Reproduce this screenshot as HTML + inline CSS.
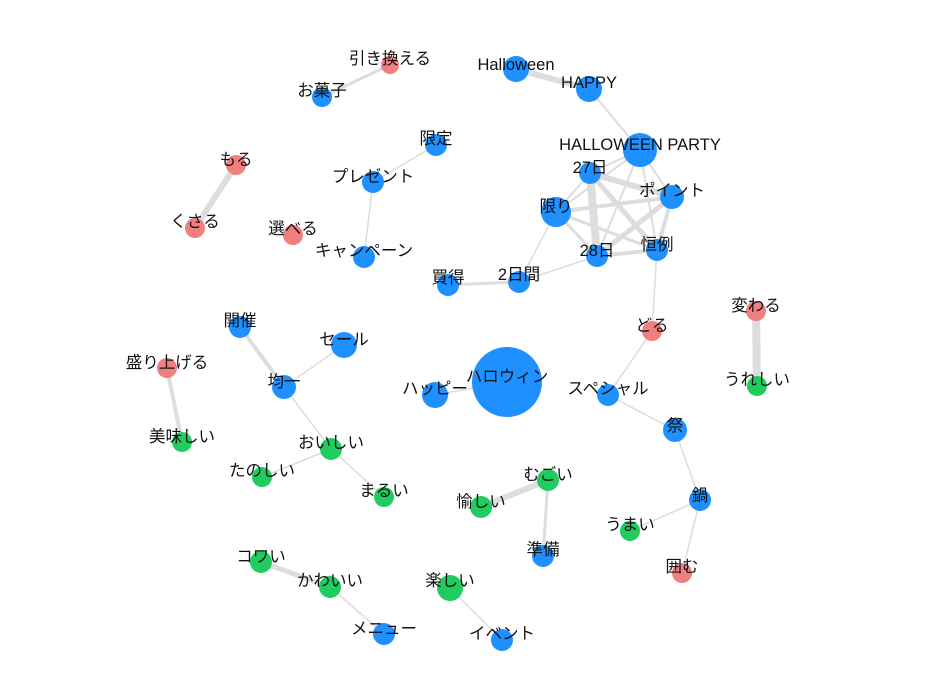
<!DOCTYPE html>
<html><head><meta charset="utf-8"><style>
html,body{margin:0;padding:0;background:#fff;width:933px;height:700px;overflow:hidden}
text{font-family:"Liberation Sans","Noto Sans CJK JP",sans-serif;font-size:16.5px;fill:#111;text-anchor:middle}
</style></head><body>
<svg width="933" height="700" xmlns="http://www.w3.org/2000/svg">
<g stroke="#ddd" stroke-linecap="round">
<line x1="390" y1="65" x2="322" y2="97" stroke-width="3"/>
<line x1="516" y1="69" x2="589" y2="89" stroke-width="6"/>
<line x1="589" y1="89" x2="640" y2="150" stroke-width="2"/>
<line x1="640" y1="150" x2="590" y2="173" stroke-width="2"/>
<line x1="640" y1="150" x2="556" y2="212" stroke-width="2"/>
<line x1="640" y1="150" x2="597" y2="256" stroke-width="2"/>
<line x1="640" y1="150" x2="672" y2="197" stroke-width="2"/>
<line x1="640" y1="150" x2="657" y2="250" stroke-width="2"/>
<line x1="590" y1="173" x2="556" y2="212" stroke-width="2"/>
<line x1="590" y1="173" x2="597" y2="256" stroke-width="8"/>
<line x1="590" y1="173" x2="672" y2="197" stroke-width="6"/>
<line x1="590" y1="173" x2="657" y2="250" stroke-width="5"/>
<line x1="556" y1="212" x2="672" y2="197" stroke-width="4"/>
<line x1="556" y1="212" x2="597" y2="256" stroke-width="3"/>
<line x1="556" y1="212" x2="657" y2="250" stroke-width="3"/>
<line x1="597" y1="256" x2="672" y2="197" stroke-width="5"/>
<line x1="597" y1="256" x2="657" y2="250" stroke-width="4"/>
<line x1="672" y1="197" x2="657" y2="250" stroke-width="4"/>
<line x1="556" y1="212" x2="519" y2="282" stroke-width="1.5"/>
<line x1="597" y1="256" x2="519" y2="282" stroke-width="1.5"/>
<line x1="519" y1="282" x2="448" y2="285" stroke-width="3"/>
<line x1="657" y1="250" x2="652" y2="331" stroke-width="1.5"/>
<line x1="652" y1="331" x2="608" y2="395" stroke-width="1.5"/>
<line x1="608" y1="395" x2="675" y2="430" stroke-width="1.5"/>
<line x1="675" y1="430" x2="700" y2="500" stroke-width="1.5"/>
<line x1="700" y1="500" x2="630" y2="531" stroke-width="1.5"/>
<line x1="700" y1="500" x2="682" y2="573" stroke-width="1.5"/>
<line x1="436" y1="145" x2="373" y2="182" stroke-width="1.5"/>
<line x1="373" y1="182" x2="364" y2="257" stroke-width="1.5"/>
<line x1="236" y1="165" x2="195" y2="228" stroke-width="6"/>
<line x1="756" y1="311" x2="757" y2="386" stroke-width="8"/>
<line x1="507" y1="382" x2="435" y2="395" stroke-width="1.5"/>
<line x1="240" y1="327" x2="284" y2="387" stroke-width="4"/>
<line x1="344" y1="345" x2="284" y2="387" stroke-width="1.5"/>
<line x1="284" y1="387" x2="331" y2="449" stroke-width="1.5"/>
<line x1="331" y1="449" x2="262" y2="477" stroke-width="1.5"/>
<line x1="331" y1="449" x2="384" y2="497" stroke-width="1.5"/>
<line x1="167" y1="368" x2="182" y2="442" stroke-width="4"/>
<line x1="548" y1="480" x2="481" y2="507" stroke-width="6"/>
<line x1="548" y1="480" x2="543" y2="556" stroke-width="3"/>
<line x1="261" y1="562" x2="330" y2="587" stroke-width="5"/>
<line x1="330" y1="587" x2="384" y2="634" stroke-width="1.5"/>
<line x1="450" y1="588" x2="502" y2="640" stroke-width="1.5"/>
</g>
<g>
<circle cx="390" cy="65" r="9" fill="#f08080"/>
<circle cx="322" cy="97" r="10" fill="#1e90ff"/>
<circle cx="516" cy="69" r="13" fill="#1e90ff"/>
<circle cx="589" cy="89" r="13" fill="#1e90ff"/>
<circle cx="640" cy="150" r="17" fill="#1e90ff"/>
<circle cx="590" cy="173" r="11" fill="#1e90ff"/>
<circle cx="672" cy="197" r="12" fill="#1e90ff"/>
<circle cx="556" cy="212" r="15" fill="#1e90ff"/>
<circle cx="597" cy="256" r="11" fill="#1e90ff"/>
<circle cx="657" cy="250" r="11" fill="#1e90ff"/>
<circle cx="519" cy="282" r="11" fill="#1e90ff"/>
<circle cx="448" cy="285" r="11" fill="#1e90ff"/>
<circle cx="436" cy="145" r="11" fill="#1e90ff"/>
<circle cx="373" cy="182" r="11" fill="#1e90ff"/>
<circle cx="364" cy="257" r="11" fill="#1e90ff"/>
<circle cx="293" cy="235" r="10" fill="#f08080"/>
<circle cx="236" cy="165" r="10" fill="#f08080"/>
<circle cx="195" cy="228" r="10" fill="#f08080"/>
<circle cx="756" cy="311" r="10" fill="#f08080"/>
<circle cx="757" cy="386" r="10" fill="#20cc60"/>
<circle cx="652" cy="331" r="10" fill="#f08080"/>
<circle cx="608" cy="395" r="11" fill="#1e90ff"/>
<circle cx="675" cy="430" r="12" fill="#1e90ff"/>
<circle cx="700" cy="500" r="11" fill="#1e90ff"/>
<circle cx="630" cy="531" r="10" fill="#20cc60"/>
<circle cx="682" cy="573" r="10" fill="#f08080"/>
<circle cx="507" cy="382" r="35" fill="#1e90ff"/>
<circle cx="435" cy="395" r="13" fill="#1e90ff"/>
<circle cx="240" cy="327" r="11" fill="#1e90ff"/>
<circle cx="344" cy="345" r="13" fill="#1e90ff"/>
<circle cx="284" cy="387" r="12" fill="#1e90ff"/>
<circle cx="167" cy="368" r="10" fill="#f08080"/>
<circle cx="182" cy="442" r="10" fill="#20cc60"/>
<circle cx="331" cy="449" r="11" fill="#20cc60"/>
<circle cx="262" cy="477" r="10" fill="#20cc60"/>
<circle cx="384" cy="497" r="10" fill="#20cc60"/>
<circle cx="548" cy="480" r="11" fill="#20cc60"/>
<circle cx="481" cy="507" r="11" fill="#20cc60"/>
<circle cx="543" cy="556" r="11" fill="#1e90ff"/>
<circle cx="261" cy="562" r="11" fill="#20cc60"/>
<circle cx="330" cy="587" r="11" fill="#20cc60"/>
<circle cx="450" cy="588" r="13" fill="#20cc60"/>
<circle cx="384" cy="634" r="11" fill="#1e90ff"/>
<circle cx="502" cy="640" r="11" fill="#1e90ff"/>
</g>
<g>
<text x="390" y="64">引き換える</text>
<text x="322" y="96">お菓子</text>
<text x="516" y="70">Halloween</text>
<text x="589" y="88">HAPPY</text>
<text x="640" y="150">HALLOWEEN PARTY</text>
<text x="590" y="173">27日</text>
<text x="672" y="196">ポイント</text>
<text x="556" y="212">限り</text>
<text x="597" y="256">28日</text>
<text x="657" y="250">恒例</text>
<text x="519" y="280">2日間</text>
<text x="448" y="283">買得</text>
<text x="436" y="144">限定</text>
<text x="373" y="182">プレゼント</text>
<text x="364" y="256">キャンペーン</text>
<text x="293" y="234">選べる</text>
<text x="236" y="165">もる</text>
<text x="195" y="227">くさる</text>
<text x="756" y="311">変わる</text>
<text x="757" y="385">うれしい</text>
<text x="652" y="331">どる</text>
<text x="608" y="394">スペシャル</text>
<text x="675" y="431">祭</text>
<text x="700" y="501">鍋</text>
<text x="630" y="530">うまい</text>
<text x="682" y="572">囲む</text>
<text x="507" y="382">ハロウィン</text>
<text x="435" y="394">ハッピー</text>
<text x="240" y="326">開催</text>
<text x="344" y="345">セール</text>
<text x="284" y="387">均一</text>
<text x="167" y="368">盛り上げる</text>
<text x="182" y="442">美味しい</text>
<text x="331" y="448">おいしい</text>
<text x="262" y="476">たのしい</text>
<text x="384" y="496">まるい</text>
<text x="548" y="480">むごい</text>
<text x="481" y="507">愉しい</text>
<text x="543" y="555">準備</text>
<text x="261" y="562">コワい</text>
<text x="330" y="586">かわいい</text>
<text x="450" y="586">楽しい</text>
<text x="384" y="634">メニュー</text>
<text x="502" y="639">イベント</text>
</g>
</svg>
</body></html>
